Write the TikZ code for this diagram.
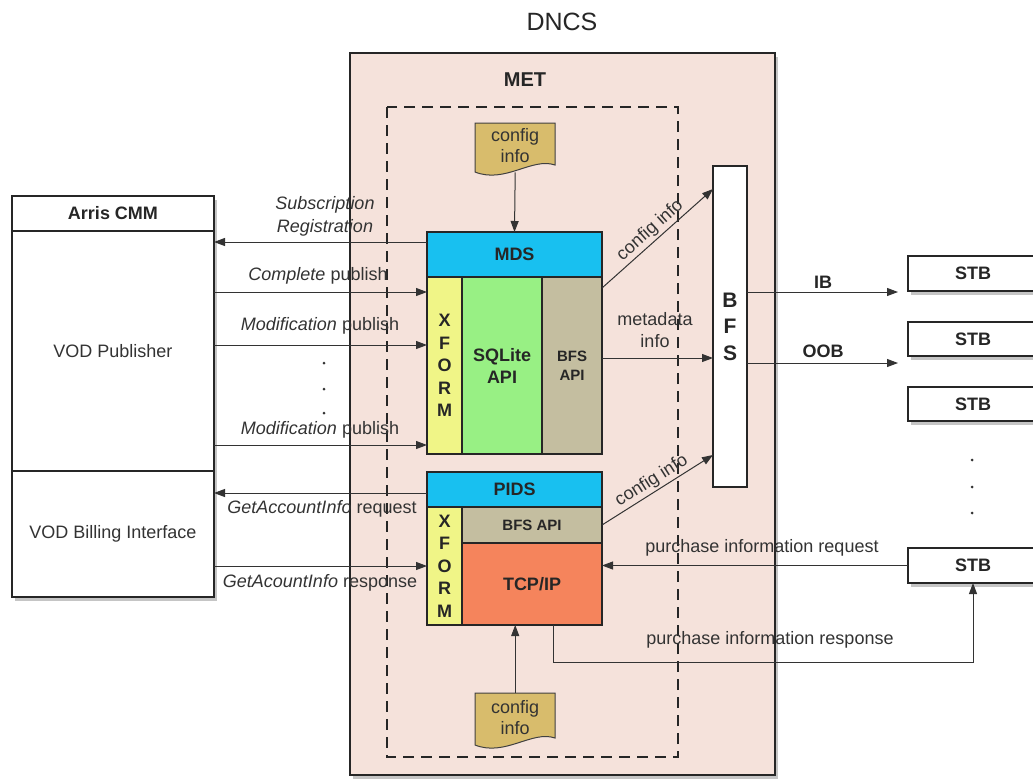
\documentclass[tikz,border=0pt]{standalone}
\usepackage{fontspec}
\setmainfont{Liberation Sans}
\usetikzlibrary{arrows.meta,shadows,calc}
\definecolor{metpink}{RGB}{245,226,219}
\definecolor{cyanb}{RGB}{24,192,240}
\definecolor{xyel}{RGB}{240,245,135}
\definecolor{sqlg}{RGB}{152,240,132}
\definecolor{tanb}{RGB}{196,190,160}
\definecolor{tcpo}{RGB}{245,132,92}
\definecolor{docc}{RGB}{216,188,108}
\begin{document}
\begin{tikzpicture}[x=1pt,y=-1pt,
  blk/.style={draw=black!85, line width=1.1pt, inner sep=0pt, outer sep=0pt, anchor=north west},
  arr/.style={draw=black!80, line width=1pt, -{Triangle[length=11pt,width=8pt]}},
  ln/.style={draw=black!80, line width=1pt},
  lbl/.style={font=\fontsize{18}{22}\selectfont, inner sep=1pt, text=black!80},
  bl/.style={font=\fontsize{18}{22}\selectfont\bfseries, text=black!85},
  shd/.style={drop shadow={opacity=0.45, shadow xshift=3pt, shadow yshift=-4pt}},
  doc/.style={draw=black!75, line width=1pt, fill=docc},
  dot/.style={circle, fill=black!80, inner sep=0pt, minimum size=3pt}
]
\useasboundingbox (0,0) rectangle (1033,780);
\fill[white] (0,0) rectangle (1033,780);

% title
\node[font=\fontsize{25}{28}\selectfont, text=black!85] (dncs) at (562,22) {DNCS};

% MET box
\node[blk, shd, fill=metpink, minimum width=425pt, minimum height=722pt] (met) at (350,53) {};
\node[bl, font=\fontsize{20}{24}\selectfont\bfseries] (metl) at (525,80) {MET};
\draw[line width=1.8pt, black!85, dash pattern=on 11pt off 7pt] (387,107) rectangle (678,757);

% Arris CMM
\node[blk, shd, fill=white, minimum width=202pt, minimum height=401pt] (arris) at (12,196) {};
\node[blk, minimum width=202pt, minimum height=35pt, bl] (arrh) at (12,196) {Arris CMM};
\node[blk, minimum width=202pt, minimum height=240pt, lbl] (pub) at (12,231) {VOD Publisher};
\node[blk, minimum width=202pt, minimum height=126pt, lbl] (bill) at (12,471) {VOD Billing Interface};

% MDS block
\node[blk, fill=cyanb, minimum width=175pt, minimum height=45pt, bl] (mds) at (427,232) {MDS};
\node[blk, fill=xyel, minimum width=35pt, minimum height=177pt, bl, align=center,
      font=\fontsize{18}{22.5}\selectfont\bfseries] (xf1) at (427,277) {X\\F\\O\\R\\M};
\node[blk, fill=sqlg, minimum width=80pt, minimum height=177pt, bl, align=center] (sql) at (462,277) {SQLite\\API};
\node[blk, fill=tanb, minimum width=60pt, minimum height=177pt, bl, align=center,
      font=\fontsize{15}{19}\selectfont\bfseries] (bapi1) at (542,277) {BFS\\API};

% PIDS block
\node[blk, fill=cyanb, minimum width=175pt, minimum height=35pt, bl] (pids) at (427,472) {PIDS};
\node[blk, fill=xyel, minimum width=35pt, minimum height=118pt, bl, align=center,
      font=\fontsize{18}{22.5}\selectfont\bfseries] (xf2) at (427,507) {X\\F\\O\\R\\M};
\node[blk, fill=tanb, minimum width=140pt, minimum height=36pt, bl,
      font=\fontsize{15}{19}\selectfont\bfseries] (bapi2) at (462,507) {BFS API};
\node[blk, fill=tcpo, minimum width=140pt, minimum height=82pt, bl] (tcp) at (462,543) {TCP/IP};

% BFS
\node[blk, fill=white, minimum width=34pt, minimum height=321pt, align=center,
      font=\fontsize{21}{26.5}\selectfont\bfseries, text=black!85] (bfs) at (713,166) {B\\F\\S};

% config docs
\draw[doc] (475,123) -- (555,123) -- (555,165) .. controls (532,157) and (505,184) .. (475,172) -- cycle;
\node[lbl, align=center, font=\fontsize{18}{21}\selectfont, minimum width=80pt, minimum height=45pt, anchor=north west, inner sep=0pt] (cfg1) at (475,123) {config\\info};
\draw[doc] (475,693) -- (555,693) -- (555,738) .. controls (532,730) and (505,757) .. (475,745) -- cycle;
\node[lbl, align=center, font=\fontsize{18}{21}\selectfont, minimum width=80pt, minimum height=48pt, anchor=north west, inner sep=0pt] (cfg2) at (475,693) {config\\info};

% STBs
\node[blk, shd, fill=white, minimum width=130pt, minimum height=35pt, bl] (stb1) at (908,256) {STB};
\node[blk, shd, fill=white, minimum width=130pt, minimum height=34pt, bl] (stb2) at (908,322) {STB};
\node[blk, shd, fill=white, minimum width=130pt, minimum height=34pt, bl] (stb3) at (908,387) {STB};
\node[blk, shd, fill=white, minimum width=130pt, minimum height=35pt, bl] (stb4) at (908,548) {STB};

% dots
\node[dot] (d1) at (972,460) {};
\node[dot] (d2) at (972,487) {};
\node[dot] (d3) at (972,513) {};
\node[dot] (e1) at (324,363) {};
\node[dot] (e2) at (324,389) {};
\node[dot] (e3) at (324,413) {};

% arrows config -> blocks
\draw[arr] ([yshift=-4pt]cfg1.south) -- (mds.north);
\draw[arr] (cfg2.north) -- (cfg2.north |- tcp.south);

% MDS / Arris arrows
\draw[arr] (mds.west |- 0,242) -- (pub.east |- 0,242);
\node[lbl, align=center, font=\fontsize{18}{23}\selectfont\itshape] (subl) at (325,216) {Subscription\\Registration};
\draw[arr] (pub.east |- 0,292) -- (xf1.west |- 0,292);
\node[lbl] (cpl) at (318,276) {\textit{Complete} publish};
\draw[arr] (pub.east |- 0,345) -- (xf1.west |- 0,345);
\node[lbl] (mpl1) at (320,326) {\textit{Modification} publish};
\draw[arr] (pub.east |- 0,445) -- (xf1.west |- 0,445);
\node[lbl] (mpl2) at (320,430) {\textit{Modification} publish};

% PIDS / billing arrows
\draw[arr] (pids.west |- 0,493) -- (bill.east |- 0,493);
\node[lbl] (gar) at (322,509) {\textit{GetAccountInfo} request};
\draw[arr] (bill.east |- 0,566) -- (xf2.west |- 0,566);
\node[lbl] (gas) at (320,583) {\textit{GetAcountInfo} response};

% to BFS
\draw[arr] ([yshift=-11pt]bapi1.north east) -- node[lbl, sloped, above=1pt] {config info} (bfs.west |- 0,189);
\draw[arr] (bapi1.east |- 0,358) -- (bfs.west |- 0,358);
\node[lbl, align=center, font=\fontsize{18}{22}\selectfont] (mdi) at (655,330) {metadata\\info};
\draw[arr] (bapi2.east) -- node[lbl, sloped, above=1pt] {config info} (bfs.west |- 0,455);

% BFS -> STBs
\coordinate (ibend) at (898,292);
\coordinate (oobend) at (898,363);
\draw[arr] (bfs.east |- ibend) -- (ibend);
\node[bl] (ibl) at (823,282) {IB};
\draw[arr] (bfs.east |- oobend) -- (oobend);
\node[bl] (oobl) at (823,351) {OOB};

% purchase info
\draw[arr] (stb4.west) -- (stb4.west -| tcp.east);
\node[lbl] (pir) at (762,548) {purchase information request};
\coordinate (r0) at ($(tcp.south west)!0.65!(tcp.south east)$);
\draw[arr] (r0) -- ++(0,37) -| (stb4.south);
\node[lbl] (pirs) at (770,640) {purchase information response};
\end{tikzpicture}
\end{document}
